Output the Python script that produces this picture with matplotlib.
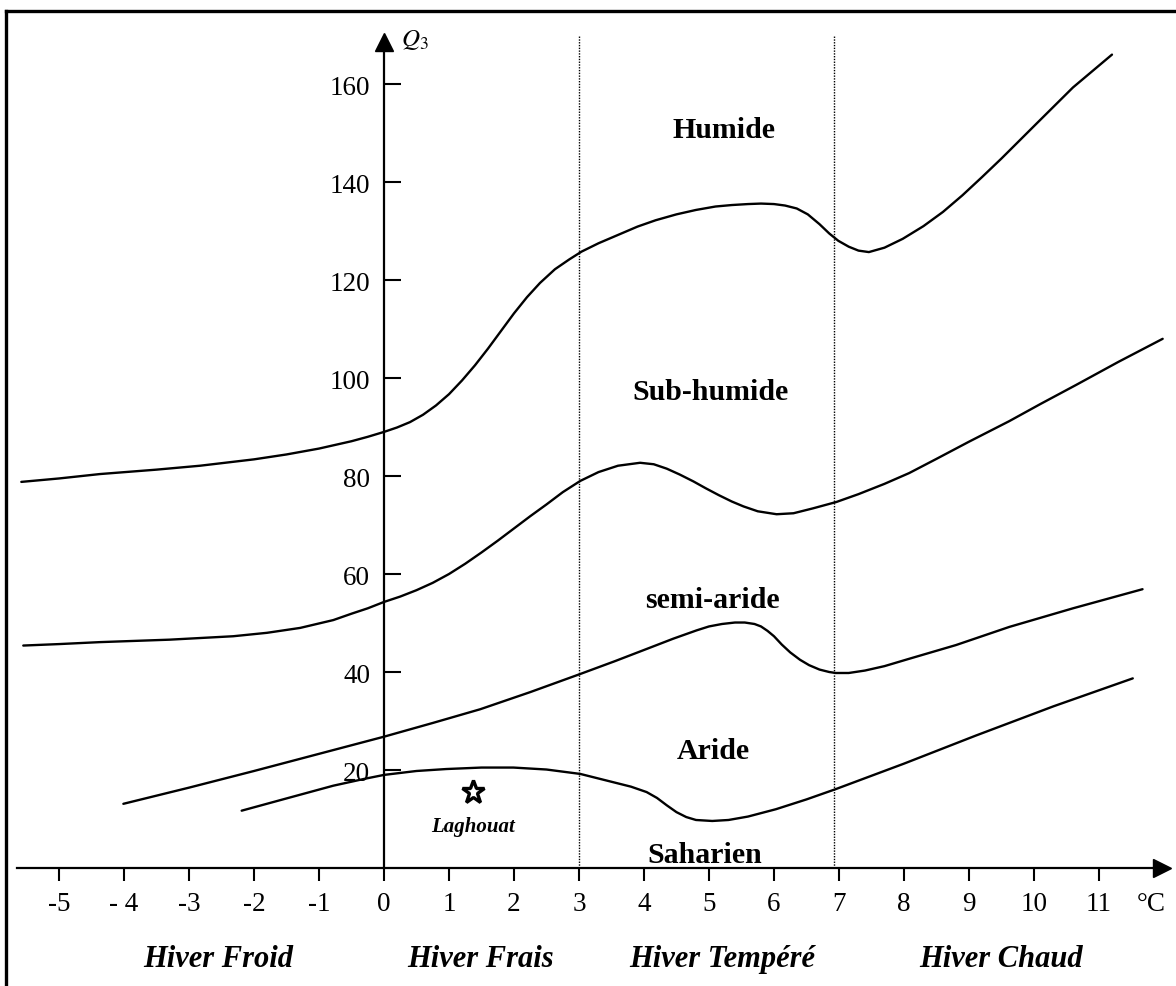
import matplotlib
matplotlib.use("Agg")
import matplotlib.pyplot as plt
from matplotlib.lines import Line2D

plt.rcParams['font.family'] = ['Liberation Serif', 'DejaVu Serif']
plt.rcParams['mathtext.fontset'] = 'stix'

# ---- data ----
x_ticks = [-5, -4, -3, -2, -1, 0, 1, 2, 3, 4, 5, 6, 7, 8, 9, 10, 11]
x_tick_labels = ["-5", "- 4", "-3", "-2", "-1", "0", "1", "2", "3", "4", "5", "6", "7", "8", "9", "10", "11"]
y_ticks = [20, 40, 60, 80, 100, 120, 140, 160]
y_tick_labels = ["20", "40", "60", "80", "100", "120", "140", "160"]

humide_x = [-5.58, -5.0, -4.37, -3.5, -2.83, -2.0, -1.5, -1.0, -0.5, -0.25, 0, 0.2, 0.4, 0.6, 0.8,
            1.0, 1.2, 1.4, 1.6, 1.8, 2.0, 2.2, 2.4, 2.63, 2.85, 3.04, 3.3, 3.6, 3.9, 4.18, 4.5, 4.8,
            5.1, 5.35, 5.6, 5.8, 6.0, 6.17, 6.35, 6.52, 6.7, 6.85, 6.99, 7.15, 7.3, 7.46, 7.7, 7.98,
            8.3, 8.6, 8.9, 9.2, 9.5, 10.03, 10.6, 11.2]
humide_y = [78.8, 79.5, 80.4, 81.3, 82.1, 83.4, 84.4, 85.6, 87.1, 88.0, 89.0, 89.9, 91.0, 92.5, 94.4,
            96.7, 99.5, 102.6, 106.0, 109.6, 113.2, 116.5, 119.4, 122.2, 124.2, 125.8, 127.5, 129.2, 130.9, 132.2, 133.4, 134.3,
            135.0, 135.3, 135.5, 135.6, 135.5, 135.2, 134.6, 133.4, 131.4, 129.5, 128.0, 126.8, 126.0, 125.7, 126.6, 128.4,
            131.0, 133.9, 137.3, 141.0, 144.8, 151.8, 159.3, 166.0]

subhum_x = [-5.55, -5.0, -4.37, -3.3, -2.32, -1.8, -1.29, -0.78, -0.5, -0.25, 0, 0.25, 0.5, 0.75,
            1.0, 1.25, 1.5, 1.75, 2.0, 2.25, 2.5, 2.75, 3.02, 3.3, 3.6, 3.94, 4.15, 4.35, 4.55, 4.76,
            4.95, 5.15, 5.35, 5.53, 5.75, 6.04, 6.3, 6.6, 6.96, 7.3, 7.7, 8.08, 8.5, 9.0, 9.62, 10.1,
            10.65, 11.3, 11.98]
subhum_y = [45.4, 45.7, 46.1, 46.6, 47.3, 48.0, 49.0, 50.6, 51.9, 53.0, 54.3, 55.4, 56.7, 58.2,
            60.0, 62.1, 64.4, 66.8, 69.3, 71.8, 74.2, 76.7, 79.0, 80.8, 82.1, 82.7, 82.4, 81.5, 80.3, 78.9,
            77.5, 76.1, 74.8, 73.8, 72.8, 72.2, 72.4, 73.4, 74.7, 76.3, 78.4, 80.6, 83.5, 87.0, 91.2, 94.7,
            98.6, 103.3, 108.0]

semiar_x = [-4.01, -3.0, -2.0, -1.0, 0, 0.75, 1.48, 2.25, 3.02, 3.55, 4.04, 4.45, 4.81, 5.0, 5.2, 5.4,
            5.55, 5.7, 5.8, 5.9, 6.0, 6.12, 6.25, 6.4, 6.54, 6.7, 6.85, 6.95, 7.15, 7.4, 7.7, 8.08,
            8.8, 9.62, 10.6, 11.67]
semiar_y = [13.1, 16.4, 19.8, 23.3, 26.8, 29.6, 32.4, 35.9, 39.6, 42.2, 44.7, 46.8, 48.5, 49.3, 49.8, 50.1,
            50.1, 49.8, 49.3, 48.4, 47.3, 45.6, 44.0, 42.5, 41.4, 40.5, 40.0, 39.8, 39.8, 40.3, 41.2, 42.7,
            45.5, 49.2, 53.0, 56.9]

aride_x = [-2.19, -1.5, -0.78, -0.3, 0, 0.5, 0.96, 1.5, 1.99, 2.5, 3.02, 3.5, 3.8, 4.04, 4.2, 4.35,
           4.5, 4.65, 4.8, 5.05, 5.3, 5.6, 6.03, 6.5, 6.95, 8.0, 9.1, 10.3, 11.52]
aride_y = [11.7, 14.2, 16.8, 18.2, 19.0, 19.8, 20.2, 20.5, 20.5, 20.1, 19.2, 17.6, 16.6, 15.5, 14.3, 12.8,
           11.4, 10.4, 9.8, 9.6, 9.8, 10.5, 12.0, 14.0, 16.1, 21.3, 27.0, 33.0, 38.7]

station_x = [1.37]
station_y = [15.5]
station_name = "Laghouat"

zone_names = ["Humide", "Sub-humide", "semi-aride", "Aride", "Saharien"]
zone_x = [5.23, 5.02, 5.06, 5.06, 4.94]
zone_y = [150.8, 97.3, 54.9, 23.9, 2.7]

winter_names = ["Hiver Froid", "Hiver Frais", "Hiver Tempéré", "Hiver Chaud"]
winter_x = [-2.55, 1.49, 5.2, 9.5]
winter_limits = [3.0, 6.93]

# ---- figure ----
fig = plt.figure(figsize=(11.76, 9.87), dpi=100)
ax = fig.add_axes([0, 0, 1, 1])
ax.set_xlim(-5.908, 12.185)
ax.set_ylim(-24.08, 177.35)
ax.patch.set_alpha(0)

for s in ['top', 'right']:
    ax.spines[s].set_visible(False)
ax.spines['left'].set_position(('data', 0))
ax.spines['bottom'].set_position(('data', 0))
ax.spines['left'].set_bounds(0, 168)
ax.spines['bottom'].set_bounds(-5.65, 11.9)
ax.spines['left'].set_linewidth(1.6)
ax.spines['bottom'].set_linewidth(1.6)

ax.set_xticks(x_ticks)
ax.set_xticklabels(x_tick_labels)
ax.set_yticks(y_ticks)
ax.set_yticklabels(y_tick_labels)
ax.tick_params(axis='x', direction='out', length=9.5, width=1.5, pad=7, labelsize=19.5)
ax.tick_params(axis='y', direction='in', length=12, width=1.5, pad=10, labelsize=19.5)

# arrows
ax.plot([11.97], [0], marker='>', markersize=13, color='black', clip_on=False)
ax.plot([0], [168.6], marker='^', markersize=13, color='black', clip_on=False)
ax.text(0.47, 169.2, r'$Q_3$', fontsize=18, ha='center', va='center')
ax.text(11.8, -7.3, "°C", fontsize=19.5, ha='center', va='center')

# winter limits
for xl in winter_limits:
    ax.plot([xl, xl], [0, 169.8], ls=(0, (1, 1)), lw=1.0, color='black')

# curves
for cx, cy in [(humide_x, humide_y), (subhum_x, subhum_y), (semiar_x, semiar_y), (aride_x, aride_y)]:
    ax.plot(cx, cy, color='black', lw=1.7, solid_capstyle='round', solid_joinstyle='round')

# station
ax.plot(station_x, station_y, marker='*', markersize=17, markerfacecolor='white',
        markeredgecolor='black', markeredgewidth=2.4, ls='none')
ax.text(station_x[0], 8.6, station_name, fontsize=15, fontweight='bold', fontstyle='italic',
        ha='center', va='center')

for name, zx, zy in zip(zone_names, zone_x, zone_y):
    ax.text(zx, zy, name, fontsize=21.5, fontweight='bold', ha='center', va='center')

for name, wx in zip(winter_names, winter_x):
    ax.text(wx, -18.4, name, fontsize=22, fontweight='bold', fontstyle='italic',
            ha='center', va='center')

# outer frame (left and top edges as in the scan)
fig.add_artist(Line2D([0.0055, 0.0055], [0, 0.9878], color='black', lw=2.4, transform=fig.transFigure))
fig.add_artist(Line2D([0.0055, 1.0], [0.9878, 0.9878], color='black', lw=2.4, transform=fig.transFigure))

fig.savefig("out.png", dpi=100)
